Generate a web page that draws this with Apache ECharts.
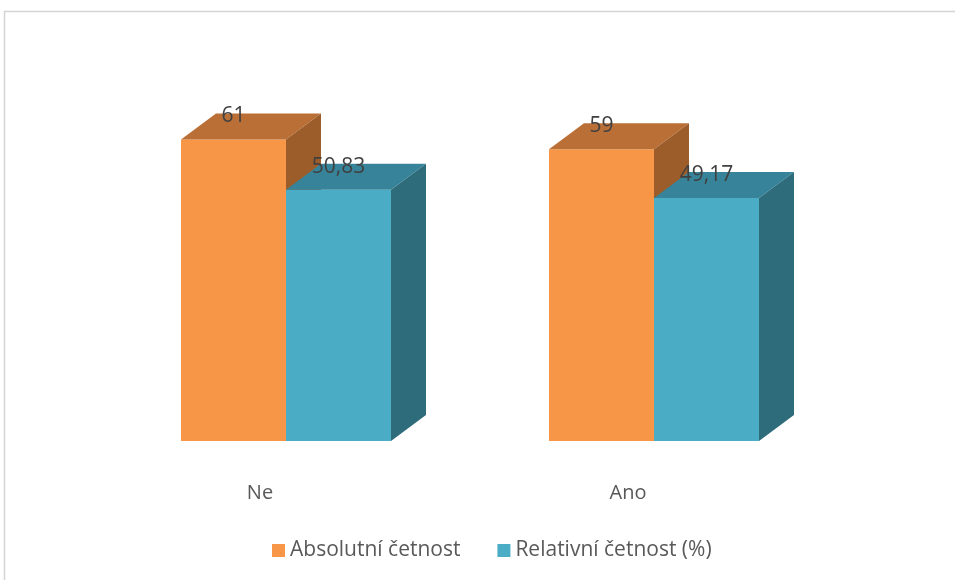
<!DOCTYPE html>
<html>
<head>
<meta charset="utf-8">
<script src="https://cdn.jsdelivr.net/npm/echarts@6/dist/echarts.min.js"></script>
<style>
  html, body { margin: 0; padding: 0; background: #fff; }
  #chart { width: 955px; height: 580px; }
</style>
</head>
<body>
<div id="chart"></div>
<script>
const categories = ['Ne', 'Ano'];
const absolutni = [61, 59];
const relativni = [50.83, 49.17];
const seriesNames = ['Absolutní četnost', 'Relativní četnost (%)'];

// 3D look: depth of the box in pixels
const DX = 35;
const DY = 26;
const BAR_RATIO = 105 / 368;
const FONT = '"Open Sans", "Noto Sans", sans-serif';

const orange = { front: '#F79646', top: '#B96F35', side: '#9C5D2A' };
const teal = { front: '#4BACC6', top: '#37849A', side: '#2F6C7B' };

const fmt = (v) => String(v).replace('.', ',');

const makeBar = (offset, c) => (params, api) => {
    const idx = api.value(0);
    const val = api.value(1);
    const top = api.coord([idx, val]);
    const base = api.coord([idx, 0]);
    const w = api.size([1, 0])[0] * BAR_RATIO;
    const x0 = top[0] + offset * w;
    const x1 = x0 + w;
    const yT = top[1];
    const yB = base[1];
    return {
        type: 'group',
        children: [
            { type: 'polygon', shape: { points: [[x0, yT], [x1, yT], [x1, yB], [x0, yB]] }, style: { fill: c.front } },
            { type: 'polygon', shape: { points: [[x0, yT], [x0 + DX, yT - DY], [x1 + DX, yT - DY], [x1, yT]] }, style: { fill: c.top } },
            { type: 'polygon', shape: { points: [[x1, yT], [x1 + DX, yT - DY], [x1 + DX, yB - DY], [x1, yB]] }, style: { fill: c.side } },
            {
                type: 'text', x: (x0 + x1) / 2, y: yT - 23,
                style: { text: fmt(val), fill: '#404040', font: '21px ' + FONT, align: 'center', verticalAlign: 'middle' }
            }
        ]
    };
};

const chart = echarts.init(document.getElementById('chart'));
chart.setOption({
    animation: false,
    graphic: [{
        type: 'rect',
        shape: { x: 4.5, y: 11.5, width: 1000, height: 700 },
        style: { fill: 'none', stroke: '#D4D4D4', lineWidth: 1.5 },
        silent: true
    }],
    grid: { left: 102, right: 117, top: 95, bottom: 139 },
    xAxis: {
        type: 'category',
        data: categories,
        axisLine: { show: false },
        axisTick: { show: false },
        axisLabel: { color: '#595959', fontSize: 20, fontFamily: FONT, margin: 42, padding: [0, 52, 0, 0] }
    },
    yAxis: { type: 'value', min: 0, max: 70, show: false },
    legend: {
        data: seriesNames,
        left: 267,
        top: 535,
        icon: 'rect',
        itemWidth: 13,
        itemHeight: 13,
        itemGap: 37,
        textStyle: { color: '#595959', fontSize: 21, fontFamily: FONT }
    },
    series: [
        {
            name: seriesNames[0],
            type: 'custom',
            itemStyle: { color: orange.front },
            renderItem: makeBar(-1, orange),
            encode: { x: 0, y: 1 },
            data: absolutni.map((v, i) => [i, v])
        },
        {
            name: seriesNames[1],
            type: 'custom',
            itemStyle: { color: teal.front },
            renderItem: makeBar(0, teal),
            encode: { x: 0, y: 1 },
            data: relativni.map((v, i) => [i, v])
        }
    ]
});
</script>
</body>
</html>
